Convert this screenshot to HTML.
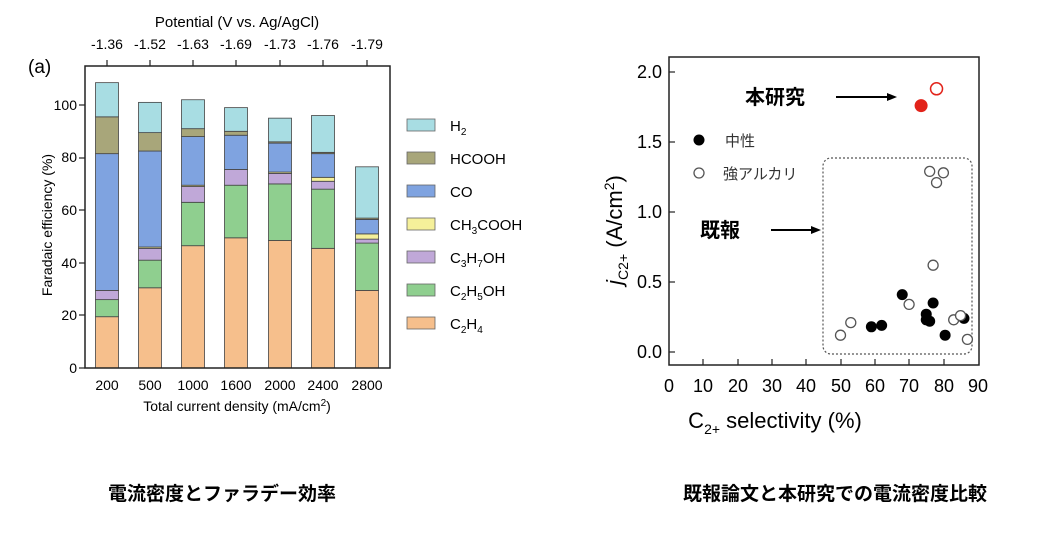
<!DOCTYPE html><html><head><meta charset="utf-8"><style>
body{margin:0;background:#fff;width:1063px;height:528px;overflow:hidden}
svg text{font-family:"Liberation Sans","Noto Sans CJK JP",sans-serif}
</style></head><body>
<svg width="1063" height="528" xmlns="http://www.w3.org/2000/svg">
<text x="237" y="27" font-size="15" text-anchor="middle">Potential (V vs. Ag/AgCl)</text>
<g font-size="14" text-anchor="middle">
<text x="107" y="49">-1.36</text><text x="150" y="49">-1.52</text><text x="193" y="49">-1.63</text><text x="236" y="49">-1.69</text><text x="280" y="49">-1.73</text><text x="323" y="49">-1.76</text><text x="367" y="49">-1.79</text>
<text x="107" y="390">200</text><text x="150" y="390">500</text><text x="193" y="390">1000</text><text x="236" y="390">1600</text><text x="280" y="390">2000</text><text x="323" y="390">2400</text><text x="367" y="390">2800</text>
</g>
<text x="28" y="73" font-size="19">(a)</text>
<text x="237" y="411" font-size="14" text-anchor="middle">Total current density (mA/cm<tspan font-size="10" dy="-5">2</tspan><tspan dy="5">)</tspan></text>
<text transform="translate(52,225) rotate(-90)" font-size="14" text-anchor="middle">Faradaic efficiency (%)</text>
<g font-size="14" text-anchor="end">
<text x="77" y="373">0</text><text x="77" y="320">20</text><text x="77" y="268">40</text><text x="77" y="215">60</text><text x="77" y="162">80</text><text x="77" y="110">100</text>
</g>
<g id="bars"></g>
<rect x="85" y="66" width="305" height="302" fill="none" stroke="#222" stroke-width="1.5"/>
<g stroke="#222" stroke-width="1.2">
<line x1="107" y1="60" x2="107" y2="66"/><line x1="150" y1="60" x2="150" y2="66"/><line x1="193" y1="60" x2="193" y2="66"/><line x1="236" y1="60" x2="236" y2="66"/><line x1="280" y1="60" x2="280" y2="66"/><line x1="323" y1="60" x2="323" y2="66"/><line x1="367" y1="60" x2="367" y2="66"/>
<line x1="79" y1="368" x2="85" y2="368"/><line x1="79" y1="315" x2="85" y2="315"/><line x1="79" y1="263" x2="85" y2="263"/><line x1="79" y1="210" x2="85" y2="210"/><line x1="79" y1="158" x2="85" y2="158"/><line x1="79" y1="105" x2="85" y2="105"/>
</g>
<g font-size="15" stroke="#666" stroke-width="0.8">
<rect x="407" y="119" width="28" height="12" fill="#a8dde3"/>
<rect x="407" y="152" width="28" height="12" fill="#a8a67a"/>
<rect x="407" y="185" width="28" height="12" fill="#7fa3e0"/>
<rect x="407" y="218" width="28" height="12" fill="#f5f09a"/>
<rect x="407" y="251" width="28" height="12" fill="#c0a8d8"/>
<rect x="407" y="284" width="28" height="12" fill="#8fcf8f"/>
<rect x="407" y="317" width="28" height="12" fill="#f6bf8c"/>
</g>
<g font-size="15">
<text x="450" y="131">H<tspan font-size="10" dy="4">2</tspan></text>
<text x="450" y="164">HCOOH</text>
<text x="450" y="197">CO</text>
<text x="450" y="230">CH<tspan font-size="10" dy="4">3</tspan><tspan dy="-4">COOH</tspan></text>
<text x="450" y="263">C<tspan font-size="10" dy="4">3</tspan><tspan dy="-4">H</tspan><tspan font-size="10" dy="4">7</tspan><tspan dy="-4">OH</tspan></text>
<text x="450" y="296">C<tspan font-size="10" dy="4">2</tspan><tspan dy="-4">H</tspan><tspan font-size="10" dy="4">5</tspan><tspan dy="-4">OH</tspan></text>
<text x="450" y="329">C<tspan font-size="10" dy="4">2</tspan><tspan dy="-4">H</tspan><tspan font-size="10" dy="4">4</tspan></text>
</g>
<g font-size="18" text-anchor="end">
<text x="662" y="358">0.0</text><text x="662" y="288">0.5</text><text x="662" y="218">1.0</text><text x="662" y="148">1.5</text><text x="662" y="78">2.0</text>
</g>
<g font-size="18" text-anchor="middle">
<text x="669" y="392">0</text><text x="703" y="392">10</text><text x="738" y="392">20</text><text x="772" y="392">30</text><text x="806" y="392">40</text><text x="841" y="392">50</text><text x="875" y="392">60</text><text x="909" y="392">70</text><text x="944" y="392">80</text><text x="978" y="392">90</text>
</g>
<text x="775" y="428" font-size="22" text-anchor="middle">C<tspan font-size="14" dy="6">2+</tspan><tspan dy="-6"> selectivity (%)</tspan></text>
<text transform="translate(622,230) rotate(-90)" font-size="22" text-anchor="middle"><tspan font-style="italic">j</tspan><tspan font-size="14" dy="6">C2+</tspan><tspan dy="-6"> (A/cm</tspan><tspan font-size="14" dy="-8">2</tspan><tspan dy="8">)</tspan></text>
<rect x="669" y="57" width="310" height="308" fill="none" stroke="#222" stroke-width="1.5"/>
<g stroke="#222" stroke-width="1.2">
<line x1="669" y1="352" x2="675" y2="352"/><line x1="669" y1="282" x2="675" y2="282"/><line x1="669" y1="212" x2="675" y2="212"/><line x1="669" y1="142" x2="675" y2="142"/><line x1="669" y1="72" x2="675" y2="72"/>
<line x1="703" y1="365" x2="703" y2="359"/><line x1="738" y1="365" x2="738" y2="359"/><line x1="772" y1="365" x2="772" y2="359"/><line x1="806" y1="365" x2="806" y2="359"/><line x1="841" y1="365" x2="841" y2="359"/><line x1="875" y1="365" x2="875" y2="359"/><line x1="909" y1="365" x2="909" y2="359"/><line x1="944" y1="365" x2="944" y2="359"/>
</g>
<rect x="823" y="158" width="149" height="196" rx="8" fill="none" stroke="#555" stroke-width="1.2" stroke-dasharray="2,2"/>
<g id="pts"></g>
<circle cx="699" cy="140" r="5.5" fill="#000"/><text x="725" y="146" font-size="15" fill="#333">中性</text>
<circle cx="699" cy="173" r="5" fill="none" stroke="#555" stroke-width="1.3"/><text x="723" y="179" font-size="15" fill="#333">強アルカリ</text>
<text x="745" y="104" font-size="20" font-weight="bold">本研究</text>
<line x1="836" y1="97" x2="890" y2="97" stroke="#000" stroke-width="2"/><polygon points="897,97 887,93 887,101" fill="#000"/>
<text x="700" y="237" font-size="20" font-weight="bold">既報</text>
<line x1="771" y1="230" x2="814" y2="230" stroke="#000" stroke-width="2"/><polygon points="821,230 811,226 811,234" fill="#000"/>
<text x="222" y="500" font-size="19" font-weight="bold" text-anchor="middle">電流密度とファラデー効率</text>
<text x="835" y="500" font-size="19" font-weight="bold" text-anchor="middle">既報論文と本研究での電流密度比較</text>
</svg>
<script>
var ns="http://www.w3.org/2000/svg";
function el(p,t,a){var e=document.createElementNS(ns,t);for(var k in a)e.setAttribute(k,a[k]);p.appendChild(e);return e;}
var cols=["#f6bf8c","#8fcf8f","#c0a8d8","#f5f09a","#7fa3e0","#a8a67a","#a8dde3"];
var xs=[107,150,193,236,280,323,367];
var d=[[19.5,26,29.5,29.5,81.5,95.5,108.5],[30.5,41,45.5,46,82.5,89.5,101],[46.5,63,69,69.5,88,91,102],[49.5,69.5,75.5,75.5,88.5,90,99],[48.5,70,74,74.5,85.5,86,95],[45.5,68,71,72.5,81.5,82,96],[29.5,47.5,49,51,56.5,57,76.5]];
var g=document.getElementById("bars");
function Y(v){return 368-v*2.63;}
d.forEach(function(b,i){var prev=0;b.forEach(function(v,j){if(v>prev){el(g,"rect",{x:xs[i]-11.5,y:Y(v),width:23,height:Y(prev)-Y(v),fill:cols[j],stroke:"#444","stroke-width":0.8});}prev=v;});});
var p=document.getElementById("pts");
function PX(x){return 669+x*3.43;}function PY(y){return 352-y*140;}
[[59,.18],[62,.19],[68,.41],[75,.27],[75,.23],[77,.35],[80.5,.12],[86,.24],[76,.22]].forEach(function(q){el(p,"circle",{cx:PX(q[0]),cy:PY(q[1]),r:5.5,fill:"#000"});});
[[50,.12],[53,.21],[70,.34],[76,1.29],[78,1.21],[80,1.28],[77,.62],[83,.23],[85,.26],[87,.09]].forEach(function(q){el(p,"circle",{cx:PX(q[0]),cy:PY(q[1]),r:5,fill:"#fff",stroke:"#555","stroke-width":1.3});});
el(p,"circle",{cx:PX(73.5),cy:PY(1.76),r:6.5,fill:"#e2231a"});
el(p,"circle",{cx:PX(78),cy:PY(1.88),r:6,fill:"none",stroke:"#e2231a","stroke-width":1.5});
</script>
</body></html>
